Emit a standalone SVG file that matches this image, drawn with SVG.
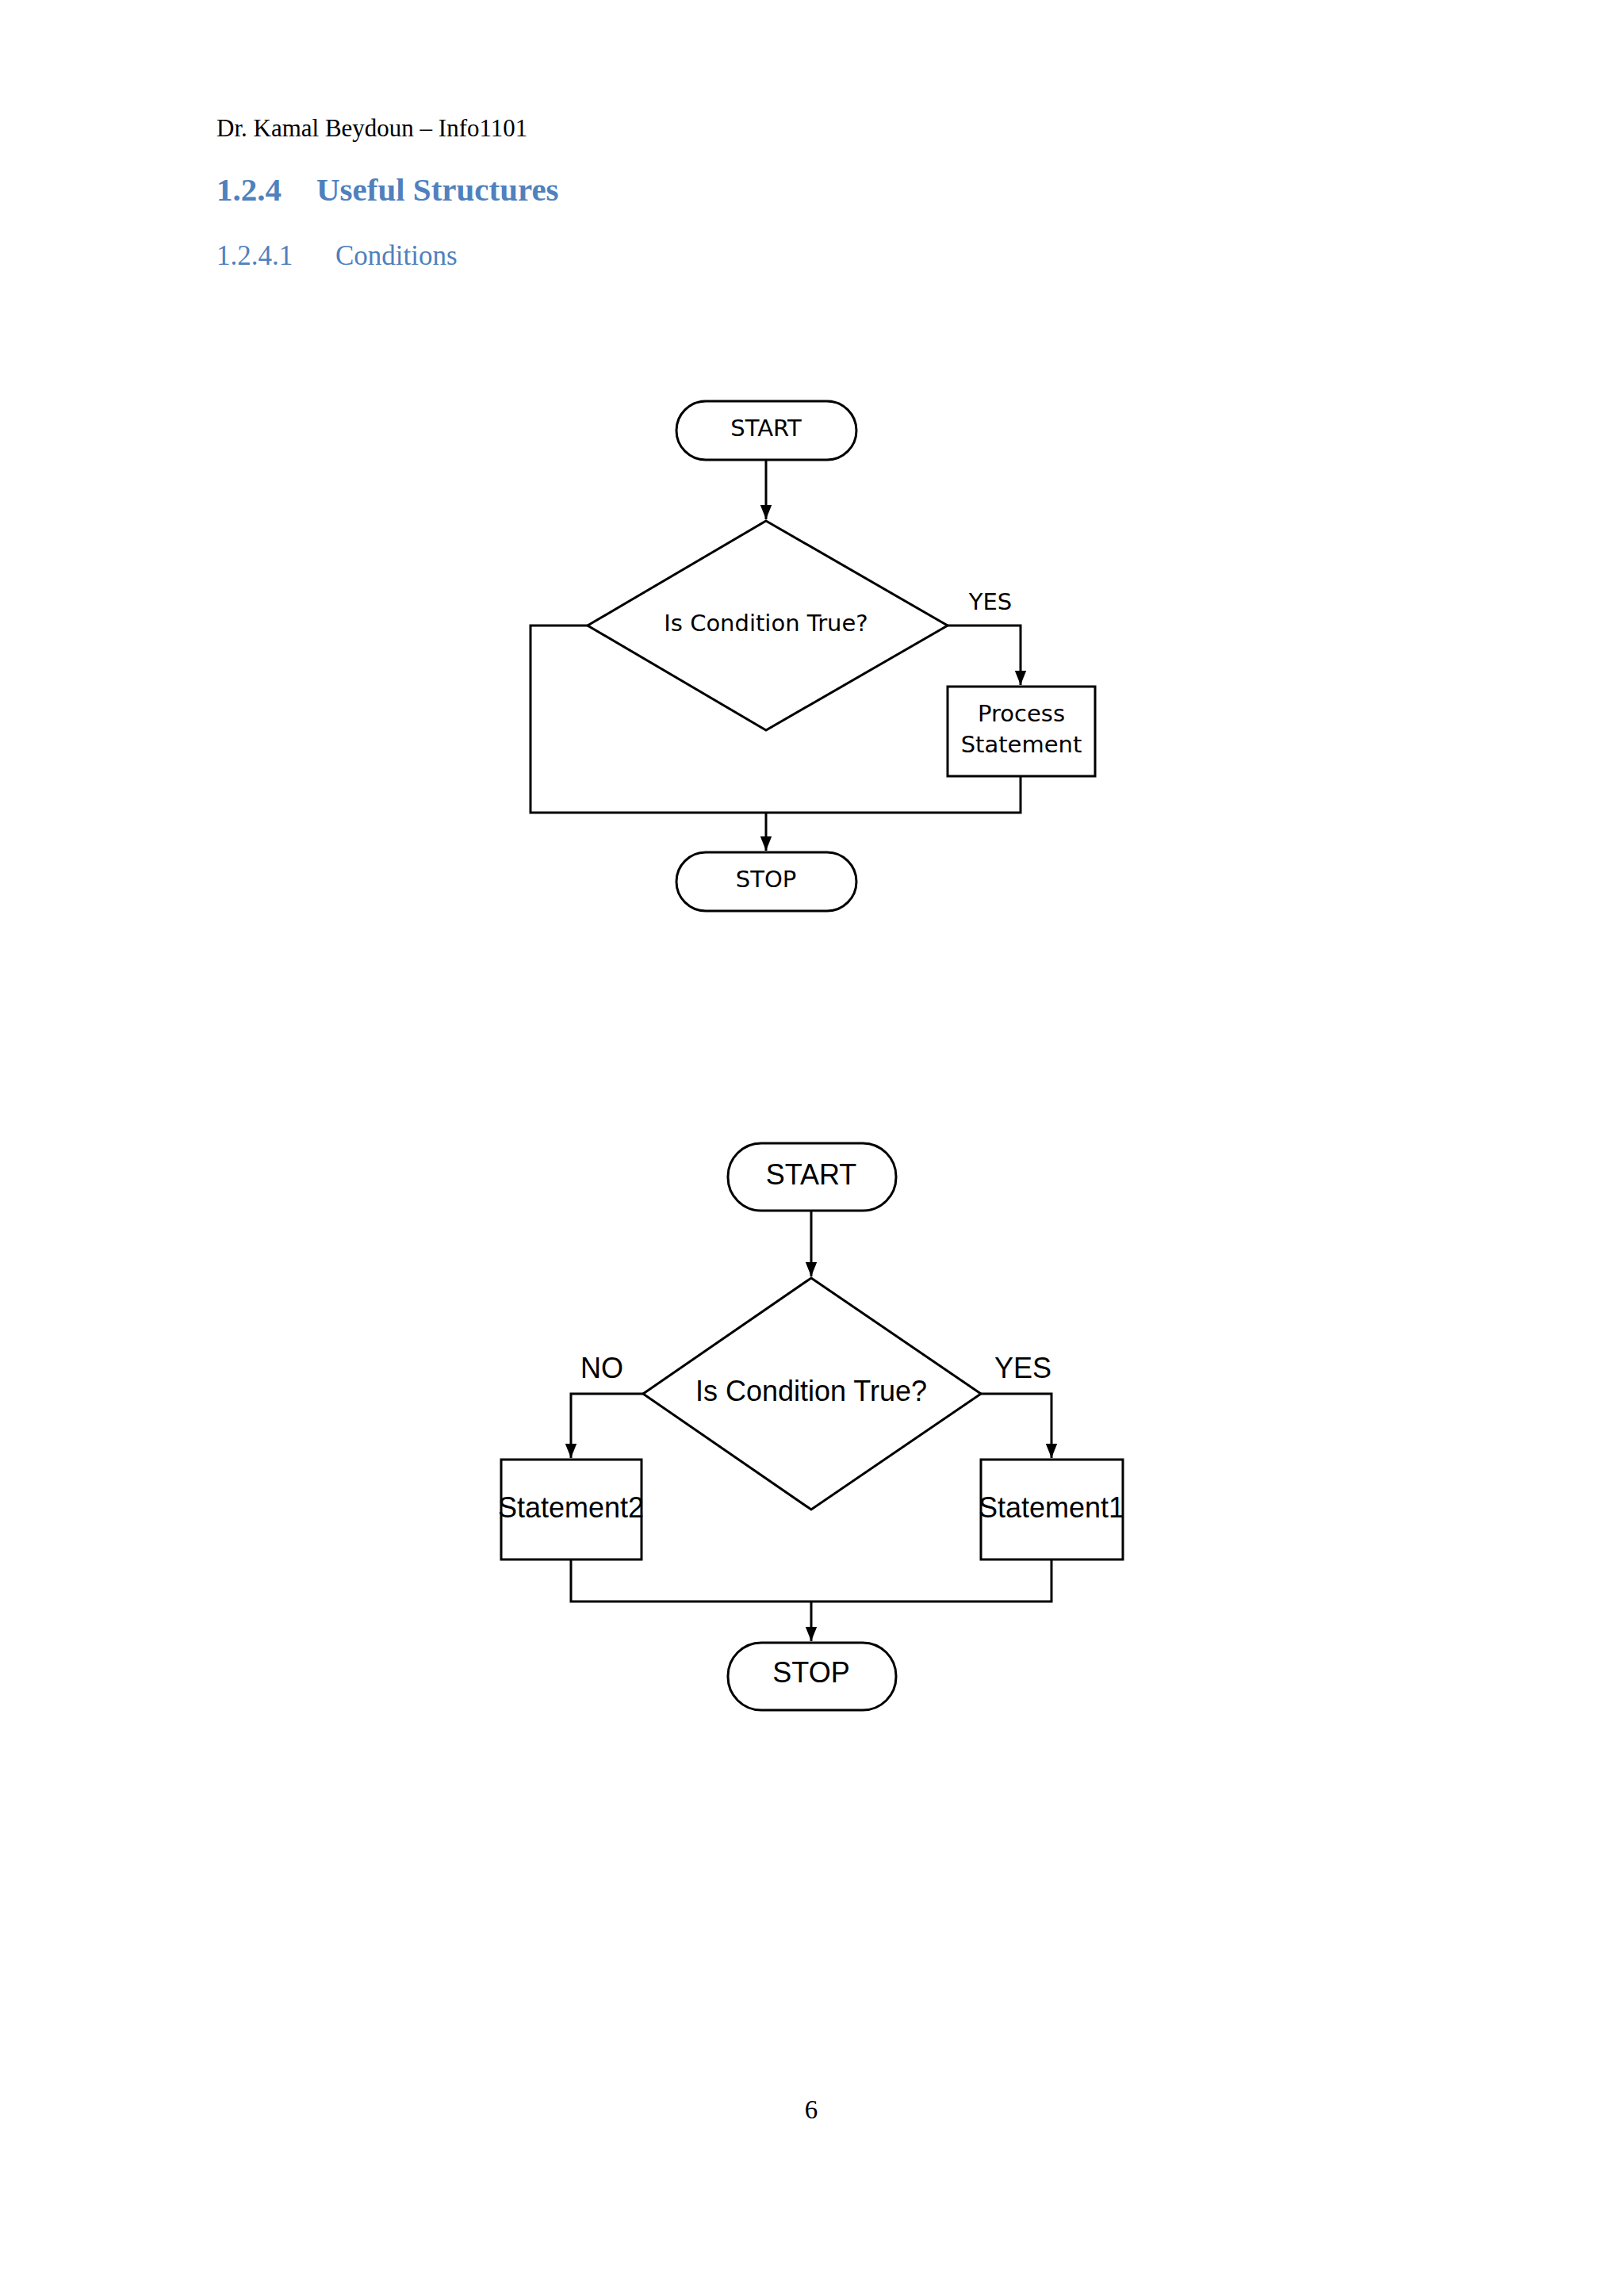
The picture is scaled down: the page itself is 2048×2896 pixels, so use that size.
<svg xmlns="http://www.w3.org/2000/svg" width="2048" height="2896" viewBox="0 0 2048 2896">
<defs>
<marker id="ah" viewBox="0 0 10 10" refX="10" refY="5" markerWidth="6" markerHeight="6" orient="auto" markerUnits="userSpaceOnUse"><path d="M0,0 L10,5 L0,10 z" fill="#000"/></marker>
<marker id="ah2" viewBox="0 0 10 10" refX="10" refY="5" markerWidth="18" markerHeight="18" orient="auto" markerUnits="userSpaceOnUse"><path d="M0,1 L10,5 L0,9 z" fill="#000"/></marker>
</defs>
<style>
.hd{font-family:"Liberation Serif",serif;fill:#000}
.h2{font-family:"Liberation Serif",serif;fill:#4f81bd}
.s{fill:#fff;stroke:#000;stroke-width:3}
.c{fill:none;stroke:#000;stroke-width:3}
.t1{font-family:"DejaVu Sans",sans-serif;font-size:29px;text-anchor:middle;dominant-baseline:middle}
.t2{font-family:"Liberation Sans Narrow","Liberation Sans",sans-serif;font-size:36px;text-anchor:middle;dominant-baseline:middle}
</style>
<rect width="2048" height="2896" fill="#fff"/>
<text class="hd" x="273" y="172" font-size="31">Dr. Kamal Beydoun – Info1101</text>
<text class="h2" x="273" y="253" font-size="41" font-weight="bold">1.2.4</text>
<text class="h2" x="399" y="253" font-size="41" font-weight="bold">Useful Structures</text>
<text class="h2" x="273" y="334" font-size="35">1.2.4.1</text>
<text class="h2" x="423" y="334" font-size="35">Conditions</text>

<g id="connectors1">
<path class="c" d="M966,580 V655" marker-end="url(#ah2)"/>
<path class="c" d="M1195,789 H1287 V864" marker-end="url(#ah2)"/>
<path class="c" d="M1287,979 V1025 H669 V789 H741"/>
<path class="c" d="M966,1025 V1073" marker-end="url(#ah2)"/>
</g>
<g id="start1"><rect class="s" x="853" y="506" width="227" height="74" rx="37"/><text class="t1" x="966" y="542">START</text></g>
<g id="cond1"><polygon class="s" points="966,657 1195,789 966,921 741,789"/><text class="t1" x="966" y="788">Is Condition True?</text></g>
<g id="yes1"><text class="t1" x="1249" y="761">YES</text></g>
<g id="proc1"><rect class="s" x="1195" y="866" width="186" height="113"/><text class="t1" x="1288" y="902">Process</text><text class="t1" x="1288" y="941">Statement</text></g>
<g id="stop1"><rect class="s" x="853" y="1075" width="227" height="74" rx="37"/><text class="t1" x="966" y="1111">STOP</text></g>

<g id="connectors2">
<path class="c" d="M1023,1527 V1610" marker-end="url(#ah2)"/>
<path class="c" d="M811,1758 H720 V1839" marker-end="url(#ah2)"/>
<path class="c" d="M1237,1758 H1326 V1839" marker-end="url(#ah2)"/>
<path class="c" d="M720,1967 V2020 H1326 V1967"/>
<path class="c" d="M1023,2020 V2070" marker-end="url(#ah2)"/>
</g>
<g id="start2"><rect class="s" x="918" y="1442" width="212" height="85" rx="42"/><text class="t2" x="1023" y="1484">START</text></g>
<g id="cond2"><polygon class="s" points="1023,1612 1237,1758 1023,1904 811,1758"/><text class="t2" x="1023" y="1757">Is Condition True?</text></g>
<g id="no2"><text class="t2" x="759" y="1728">NO</text></g>
<g id="yes2"><text class="t2" x="1290" y="1728">YES</text></g>
<g id="st2"><rect class="s" x="632" y="1841" width="177" height="126"/><text class="t2" x="720" y="1904">Statement2</text></g>
<g id="st1"><rect class="s" x="1237" y="1841" width="179" height="126"/><text class="t2" x="1326" y="1904">Statement1</text></g>
<g id="stop2"><rect class="s" x="918" y="2072" width="212" height="85" rx="42"/><text class="t2" x="1023" y="2112">STOP</text></g>

<text class="hd" x="1023" y="2672" font-size="33" text-anchor="middle">6</text>
</svg>
